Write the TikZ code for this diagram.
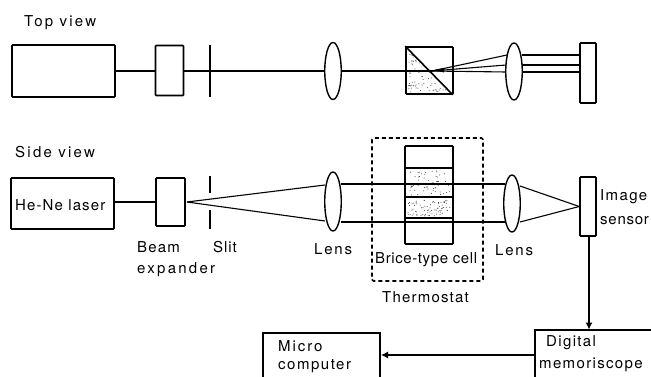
\documentclass[tikz,border=0pt]{standalone}
\usepackage{fontspec}
\setmainfont{TeX Gyre Heros}
\usetikzlibrary{shapes.geometric,arrows.meta}
\tikzset{
  box/.style={draw,line width=1.6pt,rectangle,rounded corners=0.8pt,inner sep=0pt,minimum width=#1},
  lens/.style={draw,line width=1.4pt,ellipse,inner sep=0pt,minimum width=16.5pt,minimum height=#1},
  ray/.style={line width=1.1pt},
  slit/.style={line width=1.4pt},
  frame/.style={line width=1.6pt},
  dashbox/.style={line width=1.6pt,dash pattern=on 4pt off 3pt,rounded corners=1.5pt},
  lbl/.style={anchor=west,inner sep=0pt,font=\fontsize{15pt}{16pt}\selectfont,text=black},
  tip/.style={-{Latex[length=7pt,width=7pt]}},
  dotty/.style={fill=black!80}
}
\begin{document}
\begin{tikzpicture}[x=1pt,y=-1pt]
\useasboundingbox (0,0) rectangle (651,377);
% ---------- top view
\node[lbl] (ttop) at (24,23) {\addfontfeature{LetterSpace=15}Top view};
\node[box=103pt,minimum height=52pt] (tlaser) at (63.5,71) {};
\node[box=28pt,minimum height=50pt] (texp) at (169.5,70.5) {};
\coordinate (tslitA) at (210,45);
\coordinate (tslitB) at (210,97);
\draw[slit] (tslitA) -- (tslitB);
\node[lens=57pt] (tlens1) at (333,71) {};
\node[box=47pt,minimum height=47pt] (tcube) at (429.5,70.5) {};
\node[lens=57pt] (tlens2) at (514,71.5) {};
\node[box=16pt,minimum height=60pt] (tsensor) at (588,73) {};
\coordinate (tfocus) at (432,71);
\draw[ray] (tlaser.east|-tfocus) -- (texp.west|-tfocus);
\draw[ray] (texp.east|-tfocus) -- (tlens1.west);
\draw[ray] (tlens1.east) -- (tfocus);
\draw[line width=1.6pt] (tcube.north west) -- ([xshift=-1pt]tcube.south east);
\coordinate (tr1) at (507,55);
\coordinate (tr2) at (506,65);
\coordinate (tr3) at (506,72);
\draw[ray] (tfocus) -- (tr1);
\draw[ray] (tfocus) -- (tr2);
\draw[ray] (tfocus) -- (tr3);
\fill (tfocus) ++(0,-0.6) -- ++(12,-2.4) -- ++(0,4.4) -- cycle;
\draw[ray] (tr1) ++(15,0) -- (tsensor.west|-tr1);
\draw[ray] (tr2) ++(16,0) -- (tsensor.west|-tr2);
\draw[ray] (tr3) ++(16,0) -- (tsensor.west|-tr3);
\pgfmathsetseed{17}
\foreach \i in {1,...,60}{
  \pgfmathsetmacro{\u}{rnd}\pgfmathsetmacro{\v}{rnd}
  \pgfmathsetmacro{\lo}{min(\u,\v)}\pgfmathsetmacro{\hi}{max(\u,\v)}
  \fill[dotty] ({408+\lo*40},{50+\hi*42}) circle (0.5pt);
}
% ---------- side view
\node[lbl] (tside) at (15,152) {\addfontfeature{LetterSpace=15}Side view};
\node[box=103pt,minimum height=51pt] (slaser) at (62.5,203.5) {};
\node[box=29pt,minimum height=48pt] (sexp) at (170.5,202) {};
\coordinate (sslitA) at (210,176);
\coordinate (sslitB) at (210,193);
\coordinate (sslitC) at (210,210);
\coordinate (sslitD) at (210,229);
\draw[slit] (sslitA) -- (sslitB);
\draw[slit] (sslitC) -- (sslitD);
\node[lens=59pt] (slens1) at (333,201.5) {};
\node[box=48pt,minimum height=98pt] (scell) at (429,195) {};
\node[lens=57pt] (slens2) at (512,203.5) {};
\node[box=16pt,minimum height=59pt] (ssensor) at (588,206.5) {};
\coordinate (sfocus) at (187,202);
\coordinate (sl1a) at (325,185);
\coordinate (sl1b) at (325,221);
\coordinate (sl1c) at (341,184);
\coordinate (sl1d) at (341,222);
\coordinate (sl2a) at (505,184);
\coordinate (sl2b) at (505,222);
\coordinate (sl2c) at (520,186);
\coordinate (sl2d) at (520,222);
\draw[ray] (slaser.east|-sfocus) -- (sexp.west|-sfocus);
\draw[ray] (sfocus) -- (sl1a);
\draw[ray] (sfocus) -- (sl1b);
% cell dividers and fill dots
\coordinate (cA) at (405,168);
\coordinate (cB) at (453,168);
\coordinate (cC) at (405,197);
\coordinate (cD) at (453,197);
\coordinate (cE) at (405,218);
\coordinate (cF) at (453,218);
\draw[line width=1.6pt] (cA) -- (cB);
\draw[line width=1.6pt] (cC) -- (cD);
\draw[line width=1.6pt] (cE) -- (cF);
\pgfmathsetseed{5}
\foreach \i in {1,...,55}{
  \fill[dotty] ({408+42*rnd},{171+24*rnd}) circle (0.5pt);
}
\foreach \i in {1,...,75}{
  \fill[dotty] ({408+42*rnd},{200+16*rnd}) circle (0.5pt);
}
\draw[ray] (sl1c) -- (sl2a);
\draw[ray] (sl1d) -- (sl2b);
\draw[ray] (sl2c) -- (ssensor.west);
\draw[ray] (sl2d) -- (ssensor.west);
\draw[dashbox] (372,138) rectangle (483,281);
% ---------- electronics
\coordinate (memTL) at (535,330);
\coordinate (memTR) at (651,330);
\coordinate (memBL) at (535,377);
\draw[frame] (memTR) -- (memTL) -- (memBL);
\coordinate (micBL) at (263,377);
\coordinate (micTL) at (263,333);
\coordinate (micTR) at (380,333);
\coordinate (micBR) at (380,377);
\draw[frame] (micBL) -- (micTL) -- (micTR) -- (micBR);
\coordinate (memIn) at (589,329.5);
\draw[ray,tip] (ssensor.south-|memIn) -- (memIn);
\coordinate (memOut) at (535,355);
\coordinate (micIn) at (381,355);
\draw[ray,tip] (memOut) -- (micIn);
% ---------- labels
\node[lbl] (lhene) at (15,205.5) {\addfontfeature{LetterSpace=7.5}He-Ne laser};
\node[lbl] (lbeam) at (137,247) {\addfontfeature{LetterSpace=8}Beam};
\node[lbl] (lexp) at (137,270) {\addfontfeature{LetterSpace=15}expander};
\node[lbl] (lslit) at (213,247) {\addfontfeature{LetterSpace=6}Slit};
\node[lbl] (llens1) at (314,249) {\addfontfeature{LetterSpace=12}Lens};
\node[lbl] (llens2) at (495,250) {\addfontfeature{LetterSpace=12}Lens};
\node[lbl] (lcell) at (375,259.5) {\addfontfeature{LetterSpace=4}Brice-type cell};
\node[lbl] (ltherm) at (382,297) {\addfontfeature{LetterSpace=8}Thermostat};
\node[lbl] (limg) at (600,197) {\addfontfeature{LetterSpace=9}Image};
\node[lbl] (lsens) at (600,221) {\addfontfeature{LetterSpace=5}sensor};
\node[lbl] (ldig) at (546,343) {\addfontfeature{LetterSpace=9}Digital};
\node[lbl] (lmem) at (539,365) {\addfontfeature{LetterSpace=9}memoriscope};
\node[lbl] (lmic) at (278,346) {\addfontfeature{LetterSpace=13}Micro};
\node[lbl] (lcomp) at (278,366) {\addfontfeature{LetterSpace=10}computer};
\end{tikzpicture}
\end{document}
